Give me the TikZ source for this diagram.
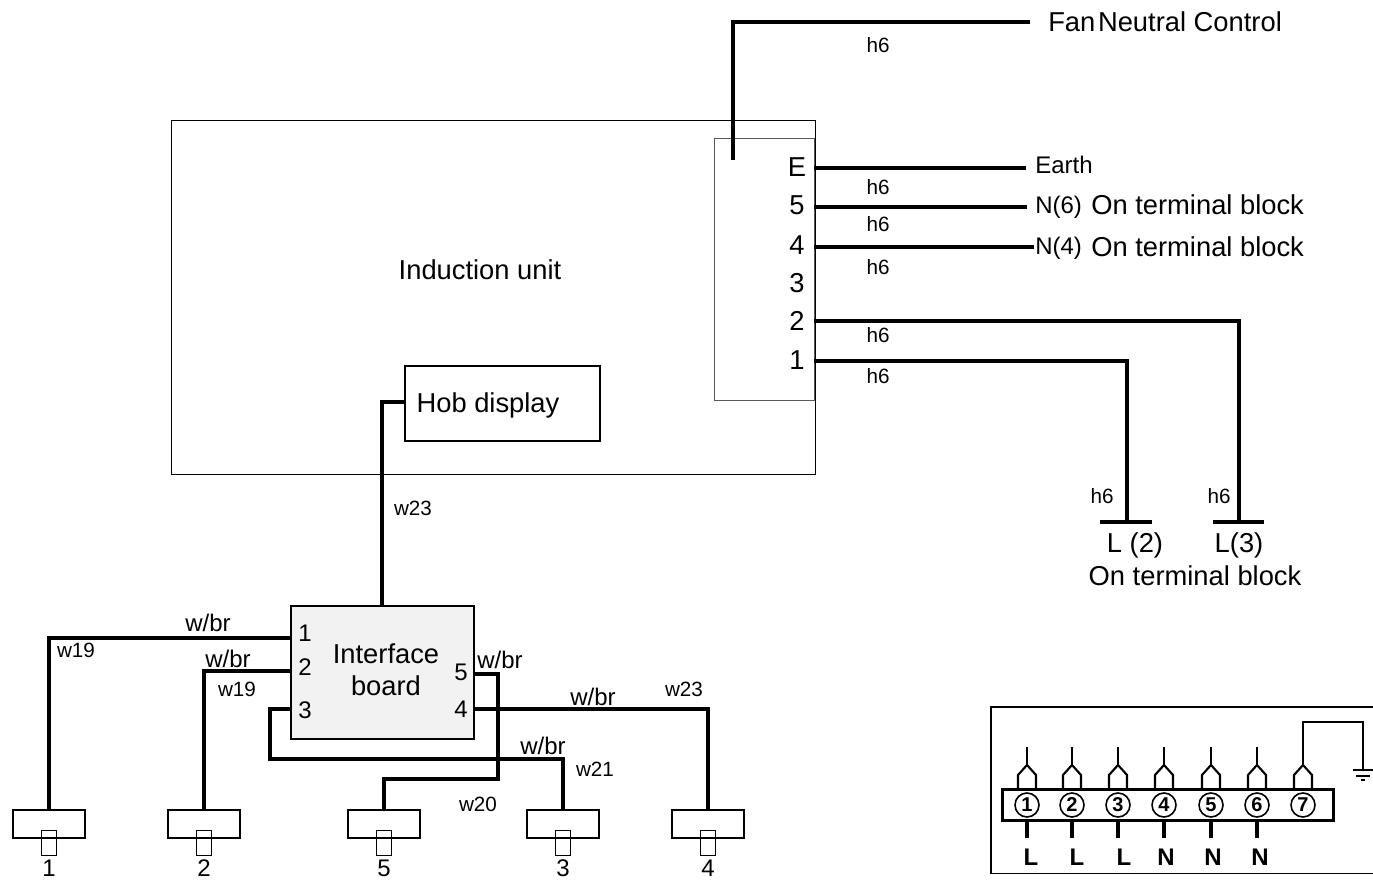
\documentclass[tikz,border=0pt]{standalone}
\usepackage{fontspec}
\setmainfont{Liberation Sans}
\usetikzlibrary{calc}
\begin{document}
\begin{tikzpicture}[
  x=0.75pt,y=-0.75pt,
  wire/.style={line width=2.3pt,line join=miter},
  thinbox/.style={draw,line width=0.7pt,inner sep=0pt},
  plug/.style={draw,line width=1.2pt,minimum width=54pt,minimum height=21pt,inner sep=0pt},
  tab/.style={draw,line width=1.2pt,minimum width=11.5pt,minimum height=19pt,inner sep=0pt},
  big/.style={inner sep=0pt,font=\fontsize{20.5}{24}\selectfont},
  mid/.style={inner sep=0pt,font=\fontsize{18}{22}\selectfont},
  lbl/.style={inner sep=0pt,font=\fontsize{15.5}{18}\selectfont},
  stud/.style={draw,circle,line width=1.2pt,minimum size=18pt,inner sep=0pt,font=\bfseries\fontsize{15}{16}\selectfont},
  letter/.style={inner sep=0pt,font=\bfseries\fontsize{18}{20}\selectfont},
]
\useasboundingbox (0,0) rectangle (1373,880);

% induction unit
\node (unit) [thinbox,minimum width=483pt,minimum height=265.5pt] at (493,297) {};
\node (blk) [thinbox,draw=black!65,minimum width=75pt,minimum height=197pt] at (764,269.5) {};
\node (hob) [thinbox,line width=1.1pt,minimum width=146pt,minimum height=56pt] at (502.5,403.5) {};
\node (unitname) [big] at (480,270) {Induction unit};
\node (hobname) [big] at (488,405) {Hob display};

% terminals
\foreach \n/\y in {E/167,5/205,4/245,3/283,2/321,1/360}
  \node (term\n) [big] at (797,\y) {\n};

% free ends
\coordinate (fanIn) at (733,160);
\coordinate (fanOut) at (1030,22);
\coordinate (earthIn) at (814,168);
\coordinate (earthOut) at (1026,168);
\coordinate (sixIn) at (814,207);
\coordinate (sixOut) at (1027,207);
\coordinate (fourIn) at (814,247);
\coordinate (fourOut) at (1034,247);
\coordinate (twoIn) at (814,321);
\coordinate (oneIn) at (814,361);
\coordinate (barA) at (1127,522);
\coordinate (barB) at (1239,522);
\coordinate (hobIn) at (405,402);

\draw [wire] (fanIn) |- (fanOut);
\draw [wire] (earthIn) -- (earthOut);
\draw [wire] (sixIn) -- (sixOut);
\draw [wire] (fourIn) -- (fourOut);
\draw [wire] (twoIn) -| (barB);
\draw [wire] (oneIn) -| (barA);
\draw [wire] (1100,522) -- (1152,522);
\draw [wire] (1213,522) -- (1264,522);

\node (fan) [big,anchor=west] at (1048,22) {Fan\kern2ptNeutral Control};
\node (earth) [mid,anchor=west] at (1035,165) {Earth};
\node (nsix) [mid,anchor=west] at (1035,207) {N(6)};
\node (nsixb) [big,anchor=west] at (1091,205) {On terminal block};
\node (nfour) [mid,anchor=west] at (1035,248) {N(4)};
\node (nfourb) [big,anchor=west] at (1091,247) {On terminal block};
\node (ltwo) [big] at (1135,545) {L (2)};
\node (lthree) [big] at (1239,545) {L(3)};
\node (lblock) [big] at (1195,576) {On terminal block};

% h6 labels
\foreach \i/\x/\y in {1/878/45,2/878/187,3/878/224,4/878/267,5/878/335,6/878/376,7/1102/496,8/1219/496}
  \node (hsix\i) [lbl] at (\x,\y) {h6};

% interface board
\node (board) [thinbox,fill=black!5,line width=1.1pt,minimum width=137pt,minimum height=100pt] at (382.5,672.5) {};
\node (boardname) [big,align=center] at (386,670) {Interface\\board};
\node (pinA) [mid] at (305,633) {1};
\node (pinB) [mid] at (305,667) {2};
\node (pinC) [mid] at (305,710) {3};
\node (pinD) [mid] at (461,709) {4};
\node (pinE) [mid] at (461,672) {5};

% plugs
\foreach \n/\x in {1/49,2/204,5/384,3/563,4/708} {
  \node (plug\n) [plug] at (\x,824) {};
  \node (tab\n) [tab] at (\x,843) {};
  \node (num\n) [mid] at (\x,868) {\n};
}

\coordinate (wireA) at (291,638);
\coordinate (wireB) at (291,671);
\coordinate (wireC) at (291,709);
\coordinate (wireD) at (474,709);
\coordinate (wireE) at (474,674);

\draw [wire] (hobIn) -| (382,606);
\draw [wire] (wireA) -| (plug1.north);
\draw [wire] (wireB) -| (plug2.north);
\draw [wire] (wireC) -- (270,709) -- (270,759) -| (plug3.north);
\draw [wire] (wireD) -| (plug4.north);
\draw [wire] (wireE) -- (498,674) -- (498,779) -| (plug5.north);

\node (brA) [mid] at (208,623) {w/br};
\node (brB) [mid] at (228,659) {w/br};
\node (brC) [mid] at (543,746) {w/br};
\node (brD) [mid] at (593,697) {w/br};
\node (brE) [mid] at (500,660) {w/br};
\node (wA) [lbl] at (76,650) {w19};
\node (wB) [lbl] at (237,689) {w19};
\node (wC) [lbl] at (595,769) {w21};
\node (wD) [lbl] at (684,689) {w23};
\node (wE) [lbl] at (478,804) {w20};
\node (wF) [lbl] at (413,508) {w23};

% terminal strip
\draw [line width=0.8pt] (1373,707) -- (991,707) -- (991,873.5) -- (1373,873.5);
\node (strip) [draw,line width=1.9pt,minimum width=248pt,minimum height=23.5pt,inner sep=0pt] at (1168,805) {};
\foreach \n/\x in {1/1027,2/1072,3/1118,4/1164,5/1211,6/1257,7/1303} {
  \node (stud\n) [stud] at (\x,805) {\n};
  \draw [line width=1.6pt] (\x-9,789) -- (\x-9,775) -- (\x,765) -- (\x+9,775) -- (\x+9,789);
}
\foreach \n in {1,...,6} {
  \coordinate (top\n) at ($(stud\n)+(0,-58)$);
  \draw [line width=1.4pt] (top\n) -- ++(0,18);
  \draw [line width=3.2pt] (stud\n |- strip.south) -- ++(0,16);
}
\draw [line width=1.8pt] (1303,765) -- (1303,722) -- (1363,722) -- (1363,770);

% earth symbol
\draw [line width=1.1pt] (1353,770) -- (1373,770);
\draw [line width=1.1pt] (1356,776) -- (1370,776);
\draw [line width=1.1pt] (1361,780) -- (1365,780);

\foreach \i/\t/\x in {1/L/1031,2/L/1077,3/L/1124,4/N/1166,5/N/1213,6/N/1260}
  \node (kind\i) [letter] at (\x,857) {\t};
\end{tikzpicture}
\end{document}
